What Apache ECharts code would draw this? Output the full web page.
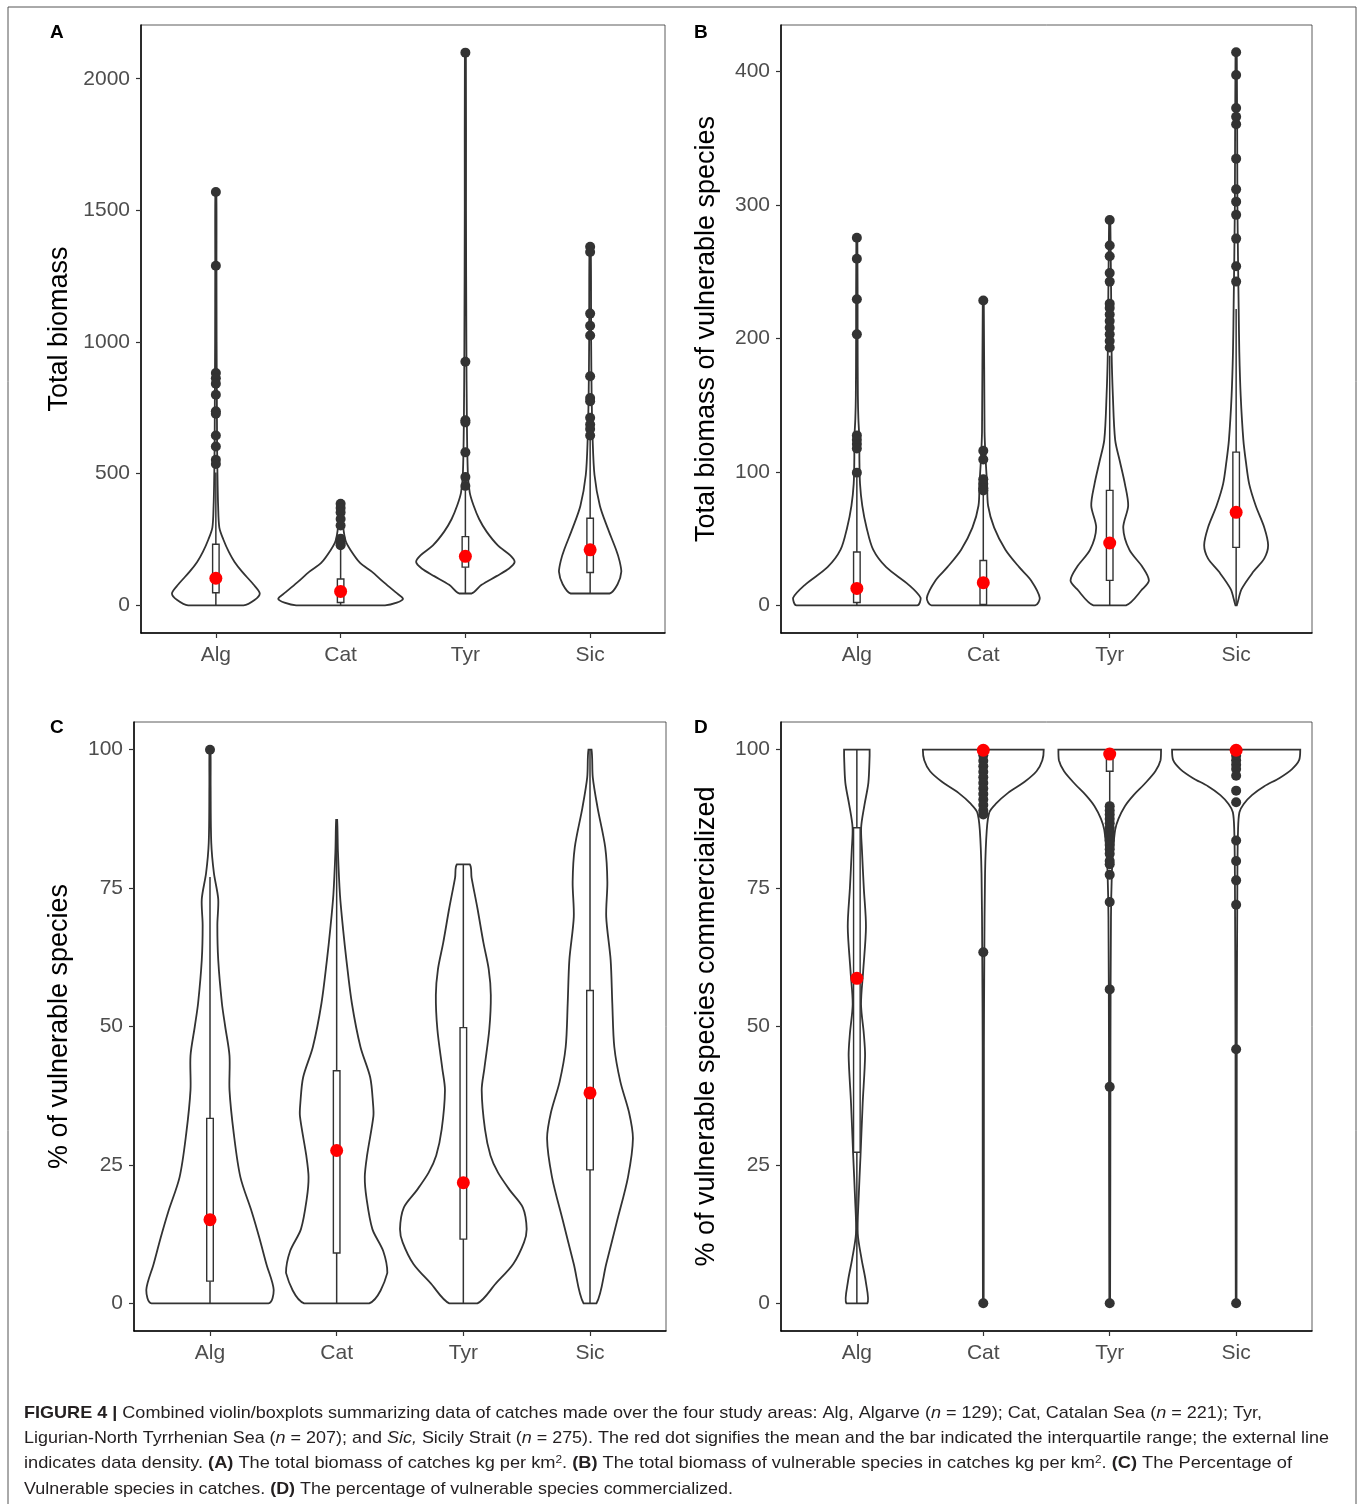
<!DOCTYPE html>
<html>
<head>
<meta charset="utf-8">
<script src="https://cdn.jsdelivr.net/npm/echarts@6/dist/echarts.min.js"></script>
<style>
html,body{margin:0;padding:0;background:#fff;}
#chart{width:1360px;height:1504px;}
</style>
</head>
<body>
<div id="chart"></div>
<script>
// ---------------- DATA ----------------
const categories = ['Alg', 'Cat', 'Tyr', 'Sic'];

// Tick labels for each panel's y axis
const ticksA = [0, 500, 1000, 1500, 2000];
const ticksB = [0, 100, 200, 300, 400];
const ticksC = [0, 25, 50, 75, 100];
const ticksD = [0, 25, 50, 75, 100];

// Violin density profiles: [value, half-width in category units]
const violinA = [
  [[0,0.222],[20,0.31],[45,0.352],[80,0.3],[128,0.21],[165,0.15],[203,0.104],[250,0.06],[295,0.028],[380,0.018],[462,0.014],[600,0.01],[800,0.008],[1000,0.006],[1300,0.005],[1570,0.004]],
  [[0,0.356],[10,0.45],[25,0.5],[50,0.44],[90,0.34],[128,0.25],[161,0.156],[211,0.078],[245,0.04],[300,0.02],[386,0.006]],
  [[45,0.05],[78,0.13],[111,0.25],[140,0.35],[165,0.395],[190,0.36],[228,0.26],[280,0.17],[328,0.11],[380,0.065],[428,0.035],[500,0.02],[700,0.012],[1000,0.008],[1500,0.005],[2099,0.004]],
  [[45,0.156],[80,0.22],[128,0.25],[170,0.235],[211,0.208],[295,0.139],[378,0.078],[495,0.035],[630,0.02],[800,0.012],[1000,0.008],[1362,0.005]]
];
const violinB = [
  [[0,0.478],[5.5,0.505],[15.4,0.41],[28.6,0.232],[41.7,0.129],[58.2,0.077],[74.6,0.043],[91,0.025],[110,0.02],[124,0.02],[140,0.012],[157,0.008],[200,0.006],[275,0.004]],
  [[0,0.41],[5.5,0.447],[18.7,0.378],[28.6,0.284],[41.7,0.175],[58.2,0.086],[74.6,0.038],[91,0.03],[107,0.02],[130,0.01],[228,0.004]],
  [[0,0.129],[12.1,0.258],[18.7,0.31],[28.6,0.26],[41.7,0.155],[58.2,0.107],[74.6,0.146],[91,0.12],[107.6,0.081],[124,0.043],[157,0.025],[190,0.015],[288,0.005]],
  [[0,0.005],[12.1,0.043],[25.3,0.137],[35.2,0.223],[45,0.253],[58.2,0.223],[74.6,0.155],[91,0.103],[107.6,0.077],[124,0.057],[157,0.036],[190,0.025],[223,0.02],[300,0.01],[414,0.005]]
];
const violinC = [
  [[0,0.462],[2.4,0.503],[7.1,0.445],[11.8,0.39],[16.5,0.33],[22.8,0.24],[30.6,0.188],[38.5,0.154],[44.7,0.154],[50,0.12],[54.2,0.094],[62,0.065],[68.3,0.058],[73,0.065],[77.7,0.031],[83.2,0.01],[93.4,0.005],[100,0.004]],
  [[0,0.257],[5.5,0.4],[9.4,0.368],[13.4,0.282],[18.9,0.236],[22.8,0.222],[26.7,0.24],[33.8,0.29],[36.1,0.287],[40.8,0.265],[46.3,0.188],[54.2,0.12],[62,0.077],[67.5,0.051],[73.8,0.026],[81.6,0.01],[87.3,0.004]],
  [[0,0.111],[3.6,0.257],[7.1,0.394],[11,0.479],[13.4,0.5],[17.3,0.47],[20.4,0.368],[23.6,0.274],[26.7,0.214],[31.4,0.171],[38.5,0.145],[42.4,0.166],[49.5,0.205],[55.7,0.217],[60.4,0.2],[65.1,0.159],[71.4,0.111],[76.9,0.065],[79.3,0.05]],
  [[0,0.051],[7.1,0.128],[14.9,0.214],[22.8,0.3],[29.8,0.339],[34.5,0.308],[40,0.24],[46.3,0.192],[54.2,0.176],[62,0.163],[69.8,0.128],[76.1,0.137],[82.4,0.12],[89.5,0.06],[95,0.022],[100,0.012]]
];
const violinD = [
  [[0,0.083],[4,0.07],[7.9,0.038],[12.6,0.007],[18.9,0.014],[26.7,0.029],[36.1,0.046],[44.7,0.065],[48.7,0.055],[54,0.033],[60,0.05],[68,0.072],[75,0.055],[82,0.04],[86,0.034],[90,0.06],[94,0.091],[98.9,0.101],[100,0.101]],
  [[0,0.003],[46.3,0.005],[62,0.008],[77.7,0.014],[85.5,0.0275],[88.7,0.048],[90.2,0.098],[92.2,0.196],[94.2,0.327],[96.1,0.421],[98.1,0.467],[100,0.478]],
  [[0,0.003],[46.3,0.006],[69.8,0.01],[77.7,0.017],[81.6,0.026],[85.5,0.043],[87.5,0.069],[89.8,0.12],[91.8,0.189],[93.8,0.275],[96.1,0.361],[98.1,0.402],[100,0.406]],
  [[0,0.003],[46.3,0.005],[77.7,0.01],[85.5,0.015],[88.7,0.026],[90.2,0.06],[91.8,0.125],[93.4,0.223],[94.9,0.344],[96.5,0.442],[98.1,0.498],[100,0.507]]
];

// Box statistics: [lower whisker, Q1, median, Q3, upper whisker]
const boxA = [[0,48,90,232,505],[0,11,40,100,225],[45,145,175,261,435],[45,125,180,331,640]];
const boxB = [[0,2.2,6,40,96],[0,0.7,9,33.6,83],[0,18.7,38,86.1,187],[0,43.4,58,114.8,222]];
const boxC = [[0,4,11,33.4,77],[0,9.1,25,42,87.3],[0,11.6,17,49.8,79.3],[0,24.1,36,56.5,100]];
const boxD = [[0,27.3,60,85.9,100],[100,100,100,100,100],[90.5,96.1,99,100,100],[99.5,99.5,100,100,100]];

// Outliers
const outliersA = [
  [1570,1290,882,862,842,800,737,728,645,603,553,537],
  [386,370,353,328,303,253,236,228],
  [2099,925,703,695,581,487,453],
  [1362,1342,1108,1062,1025,870,787,775,712,687,670,645]
];
const outliersB = [
  [275.4,259.6,229.3,203,127.3,124,120.8,117.5,99.4],
  [228.3,115.8,109.2,94.4,91.1,87.8,86.1],
  [288.6,269.5,261.5,249,242.5,226,222.7,217.8,212.9,207.9,203,198,193.1],
  [414.3,397.2,372.5,365.9,360.3,334.6,311.6,302.4,292.5,274.7,254,242.5]
];
const outliersC = [[100],[],[],[]];
const outliersD = [
  [],
  [99,98,97,96,95,94,93,92,91,90,89,88.3,63.4,0],
  [89.8,89.0,88.3,87.5,86.7,85.9,85.1,84.3,83.6,82.8,82.0,81.2,79.9,79.3,77.4,72.5,56.7,39.1,0],
  [98.9,98.1,97.3,96.5,95.3,92.6,90.5,83.6,79.9,76.4,72.0,45.9,0]
];

// Means (red dots)
const meansA = [103, 53, 186, 211];
const meansB = [12.7, 17, 46.7, 69.7];
const meansC = [15.1, 27.6, 21.8, 38];
const meansD = [58.7, 99.9, 99.2, 99.9];

// Axis titles and panel letters
const yTitles = ['Total biomass', 'Total biomass of vulnerable species', '% of vulnerable species', '% of vulnerable species commercialized'];
const panelLetters = ['A', 'B', 'C', 'D'];
const yRanges = [[-105, 2204], [-20.7, 434.7], [-5, 105], [-5, 105]];

const captionLines = [
  '{b|FIGURE 4 |} Combined violin/boxplots summarizing data of catches made over the four study areas: Alg, Algarve ({i|n} = 129); Cat, Catalan Sea ({i|n} = 221); Tyr,',
  'Ligurian-North Tyrrhenian Sea ({i|n} = 207); and {i|Sic,} Sicily Strait ({i|n} = 275). The red dot signifies the mean and the bar indicated the interquartile range; the external line',
  'indicates data density. {b|(A)} The total biomass of catches kg per km{sup|2}. {b|(B)} The total biomass of vulnerable species in catches kg per km{sup|2}. {b|(C)} The Percentage of',
  'Vulnerable species in catches. {b|(D)} The percentage of vulnerable species commercialized.'
];

// ---------------- CHART ----------------
const FONT = '"Liberation Sans", Arial, Helvetica, sans-serif';
const CAPFONT = '"Liberation Sans", Arial, Helvetica, sans-serif';
const INK = '#333333';

const violins = [violinA, violinB, violinC, violinD];
const boxes = [boxA, boxB, boxC, boxD];
const outliers = [outliersA, outliersB, outliersC, outliersD];
const means = [meansA, meansB, meansC, meansD];
const ticks = [ticksA, ticksB, ticksC, ticksD];

const grids = [
  {left: 141, top: 25, width: 524, height: 608},
  {left: 781, top: 25, width: 531, height: 608},
  {left: 134, top: 722, width: 532, height: 609},
  {left: 781, top: 722, width: 531, height: 609}
];
const nameGaps = [68, 61, 61, 61];

const xAxes = [], yAxes = [], series = [];
const catPos = categories.map((c, i) => i + 1);

for (let p = 0; p < 4; p++) {
  xAxes.push({
    type: 'value', gridIndex: p, min: 0.4, max: 4.6,
    axisLine: {show: true, onZero: false, lineStyle: {color: '#000', width: 1.5}},
    axisTick: {show: true, length: 5, lineStyle: {color: INK, width: 1.2}, customValues: catPos},
    axisLabel: {show: true, customValues: catPos, formatter: v => categories[Math.round(v) - 1] || '',
      fontSize: 21, color: '#4d4d4d', fontFamily: FONT, margin: 12},
    splitLine: {show: false}
  });
  yAxes.push({
    type: 'value', gridIndex: p, min: yRanges[p][0], max: yRanges[p][1],
    name: yTitles[p], nameLocation: 'middle', nameGap: nameGaps[p],
    nameTextStyle: {fontSize: 27, color: '#000', fontFamily: FONT},
    axisLine: {show: true, onZero: false, lineStyle: {color: '#000', width: 1.5}},
    axisTick: {show: true, length: 5, lineStyle: {color: INK, width: 1.2}, customValues: ticks[p]},
    axisLabel: {show: true, customValues: ticks[p], formatter: v => String(v),
      fontSize: 21, color: '#4d4d4d', fontFamily: FONT, margin: 11},
    splitLine: {show: false}
  });

  const prof = violins[p];
  series.push({
    type: 'custom', xAxisIndex: p, yAxisIndex: p, z: 1, silent: true,
    data: catPos.map(c => [c, 0]),
    encode: {x: 0, y: 1},
    renderItem: function (params, api) {
      const i = params.dataIndex;
      const cx = api.value(0);
      const pr = prof[i];
      const right = pr.map(d => api.coord([cx + d[1], d[0]]));
      const left = pr.slice().reverse().map(d => api.coord([cx - d[1], d[0]]));
      const pts = right.concat(left);
      let x0 = Infinity, y0 = Infinity, x1 = -Infinity, y1 = -Infinity;
      pts.forEach(q => { x0 = Math.min(x0, q[0]); x1 = Math.max(x1, q[0]); y0 = Math.min(y0, q[1]); y1 = Math.max(y1, q[1]); });
      return {
        type: 'polygon',
        shape: {points: pts, smooth: 0.3, smoothConstraint: [[x0, y0], [x1, y1]]},
        style: {fill: '#fff', stroke: INK, lineWidth: 1.8}
      };
    }
  });

  const bx = boxes[p];
  series.push({
    type: 'custom', xAxisIndex: p, yAxisIndex: p, z: 2, silent: true,
    data: catPos.map((c, i) => [c].concat(bx[i])),
    encode: {x: 0, y: [1, 2, 3, 4, 5]},
    renderItem: function (params, api) {
      const cx = api.value(0);
      const lo = api.value(1), q1 = api.value(2), q3 = api.value(4), hi = api.value(5);
      const hw = 0.026;
      const pLo = api.coord([cx, lo]), pQ1 = api.coord([cx, q1]), pQ3 = api.coord([cx, q3]), pHi = api.coord([cx, hi]);
      const tl = api.coord([cx - hw, q3]), br = api.coord([cx + hw, q1]);
      const st = {stroke: INK, lineWidth: 1.5};
      return {
        type: 'group',
        children: [
          {type: 'line', shape: {x1: pLo[0], y1: pLo[1], x2: pQ1[0], y2: pQ1[1]}, style: st},
          {type: 'line', shape: {x1: pQ3[0], y1: pQ3[1], x2: pHi[0], y2: pHi[1]}, style: st},
          {type: 'rect', shape: {x: tl[0], y: tl[1], width: br[0] - tl[0], height: br[1] - tl[1]},
            style: {fill: '#fff', stroke: INK, lineWidth: 1.4}}
        ]
      };
    }
  });

  const od = [];
  outliers[p].forEach((arr, i) => arr.forEach(v => od.push([i + 1, v])));
  series.push({
    type: 'scatter', xAxisIndex: p, yAxisIndex: p, z: 3, silent: true,
    symbol: 'circle', symbolSize: 10, itemStyle: {color: INK, opacity: 1},
    data: od
  });
  series.push({
    type: 'scatter', xAxisIndex: p, yAxisIndex: p, z: 4, silent: true,
    symbol: 'circle', symbolSize: 13, itemStyle: {color: '#ff0000', opacity: 1},
    data: means[p].map((v, i) => [i + 1, v])
  });
}

// caption width fitting (layout constants)
const capTargets = [1238, 1305, 1268, 709];
const capSize = 17;
const mctx = document.createElement('canvas').getContext('2d');
function measureRich(line) {
  let w = 0;
  const re = /\{(\w+)\|([^}]*)\}/g;
  let last = 0, m;
  const seg = (txt, kind) => {
    let f = capSize + 'px ' + CAPFONT;
    if (kind === 'b') f = 'bold ' + f;
    if (kind === 'i') f = 'italic ' + f;
    if (kind === 'sup') f = '11px ' + CAPFONT;
    mctx.font = f;
    w += mctx.measureText(txt).width;
  };
  while ((m = re.exec(line)) !== null) {
    if (m.index > last) seg(line.slice(last, m.index), 'n');
    seg(m[2], m[1]);
    last = re.lastIndex;
  }
  if (last < line.length) seg(line.slice(last), 'n');
  return w;
}

const graphics = [
  {type: 'rect', shape: {x: 8, y: 7, width: 1348, height: 1510}, style: {fill: 'none', stroke: '#555', lineWidth: 1}, z: 0}
];
const letterPos = [[50, 33], [694, 33], [50, 728], [694, 728]];
panelLetters.forEach((L, i) => graphics.push({
  type: 'text', x: letterPos[i][0], y: letterPos[i][1],
  style: {text: L, fontSize: 19, fontWeight: 'bold', fill: '#000', fontFamily: FONT, verticalAlign: 'middle'}
}));
const capY = [1413, 1438, 1463, 1489];
captionLines.forEach((t, i) => {
  const w = measureRich(t);
  const sx = w > 0 ? capTargets[i] / w : 1;
  graphics.push({
    type: 'text', x: 24, y: capY[i], scaleX: sx,
    style: {
      text: t, fontSize: capSize, fill: '#231f20', fontFamily: CAPFONT, verticalAlign: 'middle',
      rich: {
        b: {fontWeight: 'bold', fontSize: capSize, fontFamily: CAPFONT, fill: '#231f20'},
        i: {fontStyle: 'italic', fontSize: capSize, fontFamily: CAPFONT, fill: '#231f20'},
        sup: {fontSize: 11, fontFamily: CAPFONT, fill: '#231f20', verticalAlign: 'top', lineHeight: 11}
      }
    }
  });
});

const chart = echarts.init(document.getElementById('chart'));
chart.setOption({
  animation: false,
  backgroundColor: '#fff',
  grid: grids.map(g => Object.assign({show: true, borderColor: INK, borderWidth: 0.8, backgroundColor: '#fff', containLabel: false}, g)),
  xAxis: xAxes,
  yAxis: yAxes,
  series: series,
  graphic: graphics
});
</script>
</body>
</html>
